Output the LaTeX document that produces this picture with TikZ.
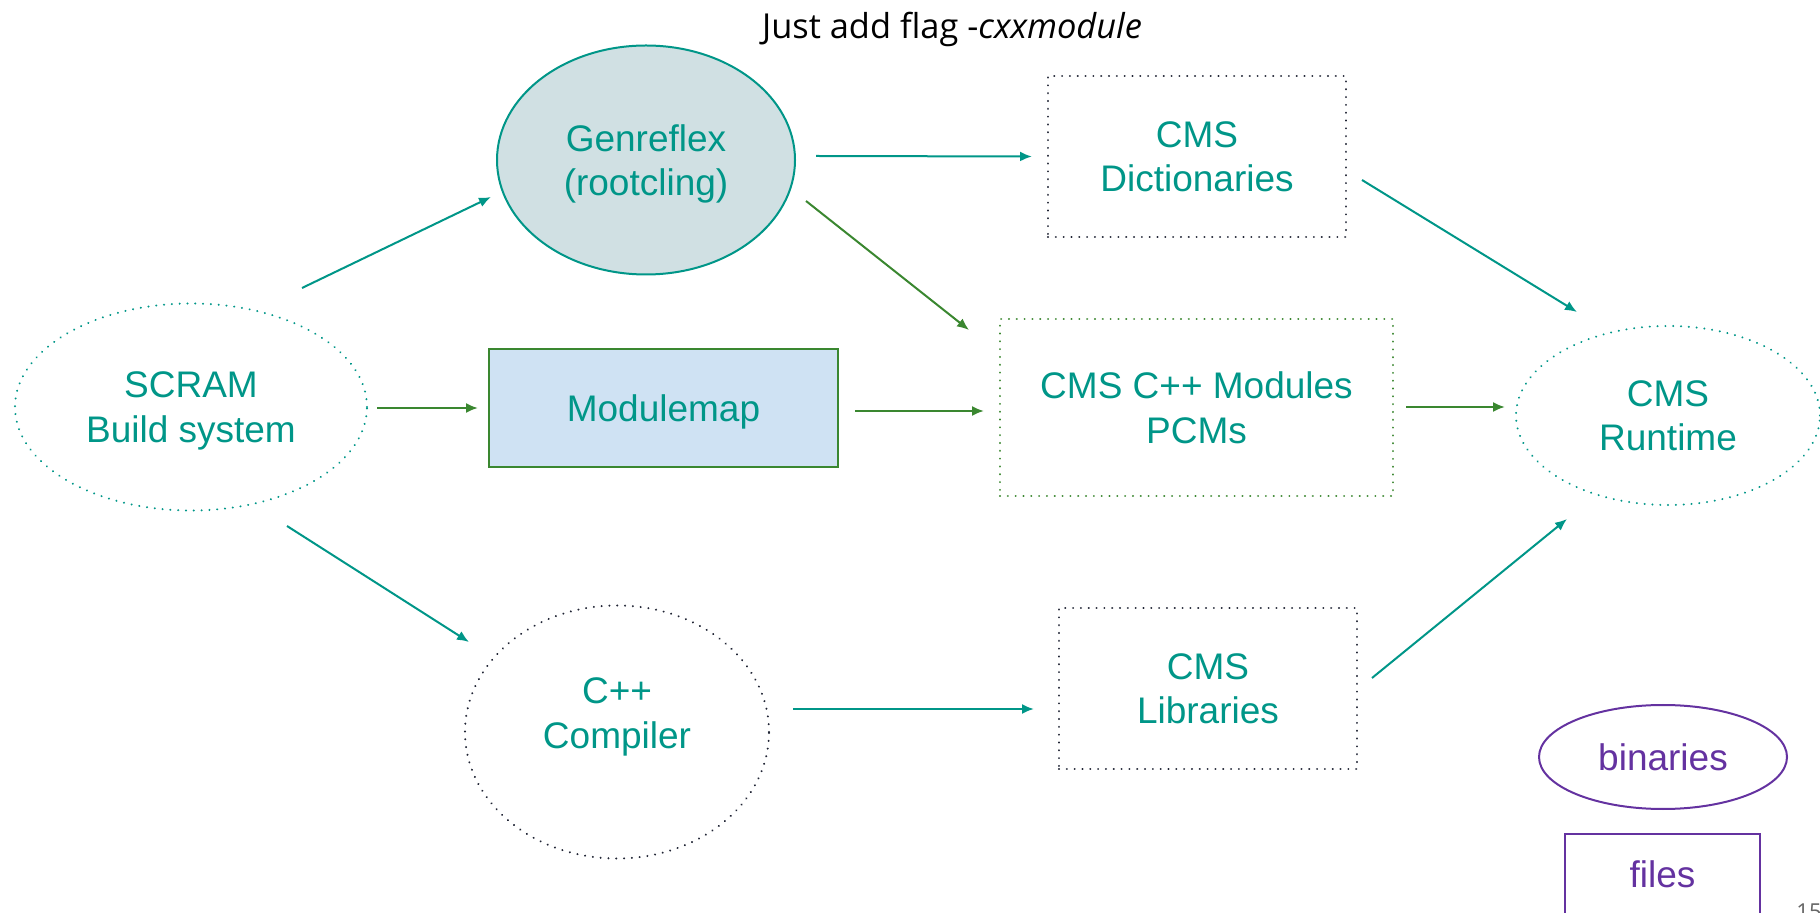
\documentclass[tikz,border=0pt]{standalone}
\usepackage{fontspec}
\setmainfont{Liberation Sans}
\newfontfamily\titlefont{Open Sans}
\usetikzlibrary{arrows.meta,calc,shapes.geometric}
\definecolor{teal1}{RGB}{0,150,136}
\definecolor{green1}{RGB}{58,135,48}
\definecolor{navy1}{RGB}{32,36,52}
\definecolor{purple1}{RGB}{100,50,160}
\definecolor{genfill}{RGB}{208,224,227}
\definecolor{mmfill}{RGB}{207,226,243}
\tikzset{
  lbl/.style={text=teal1, font=\fontsize{18.5}{22.3}\selectfont, align=center, inner sep=0pt, text depth=0pt},
  ell/.style={ellipse, lbl},
  box/.style={rectangle, lbl},
  dots/.style={line width=1.1pt, dash pattern=on 0.01pt off 3.9pt, line cap=round},
  tarr/.style={draw=teal1, line width=1pt, -{Latex[length=6pt,width=5pt]}},
  garr/.style={draw=green1, line width=1pt, -{Latex[length=6pt,width=5pt]}},
}
\begin{document}
\begin{tikzpicture}[x=0.5pt,y=-0.5pt]
\clip (0,0) rectangle (1820,913);
\useasboundingbox (0,0) rectangle (1820,913);

\node[inner sep=0pt, font=\titlefont\fontsize{17.2}{20}\selectfont] (title) at (952,29) {Just add flag -\textit{cxxmodule}};

\node[ell, draw=teal1, dots, minimum width=176pt, minimum height=103.5pt] (scram) at (191,407) {SCRAM\\Build system};
\node[ell, draw=teal1, fill=genfill, line width=1pt, minimum width=149pt, minimum height=114.5pt] (gen) at (646,160) {Genreflex\\(rootcling)};
\node[box, draw=green1, fill=mmfill, line width=1pt, minimum width=174.5pt, minimum height=59pt] (mm) at (663.5,408) {Modulemap};
\node[box, draw=navy1, dots, minimum width=149pt, minimum height=80.5pt] (dict) at (1197,156.5) {CMS\\Dictionaries};
\node[box, draw=green1, dots, minimum width=196.5pt, minimum height=88.5pt] (mods) at (1196.5,407.5) {CMS C++ Modules\\PCMs};
\node[ell, draw=teal1, dots, minimum width=152pt, minimum height=89.5pt] (run) at (1668,415.5) {CMS\\Runtime};
\node[ell, draw=navy1, dots, minimum width=152pt, minimum height=126.5pt, text depth=19pt] (comp) at (617,732) {C++\\Compiler};
\node[box, draw=navy1, dots, minimum width=149pt, minimum height=80.5pt] (lib) at (1208,688.5) {CMS\\Libraries};

\node[ell, draw=purple1, text=purple1, line width=1pt, minimum width=124pt, minimum height=52pt] (bin) at (1663,757) {binaries};
\node[box, draw=purple1, line width=1pt, minimum width=97.5pt, minimum height=53pt] (files) at (1662.5,887) {};
\node[lbl, text=purple1, anchor=base] (filestxt) at (1662.5,887) {files};
\node[inner sep=0pt, anchor=north west, text=black!60, font=\titlefont\fontsize{11}{13}\selectfont] (pg) at (1796,903) {15};

\draw[tarr] ($(scram)+(111,-119)$) -- ($(gen)+(-155,37)$);
\draw[garr] ($(scram)+(186,1)$) -- ($(mm)+(-185.5,0)$);
\draw[tarr] ($(scram)+(96,119)$) -- ($(comp)+(-148,-90)$);
\draw[tarr] ($(gen)+(170,-4)$) -- ($(dict)+(-165,0)$);
\draw[garr] ($(gen)+(160,41)$) -- ($(mods)+(-227.5,-77.5)$);
\draw[garr] ($(mm)+(191.5,3)$) -- ($(mods)+(-212.5,3.5)$);
\draw[tarr] ($(dict)+(165,23.5)$) -- ($(run)+(-91,-103.5)$);
\draw[garr] ($(mods)+(209.5,-0.5)$) -- ($(run)+(-163,-8.5)$);
\draw[tarr] ($(comp)+(176,-23)$) -- ($(lib)+(-174,20.5)$);
\draw[tarr] ($(lib)+(164,-10.5)$) -- ($(run)+(-101,103.5)$);
\end{tikzpicture}
\end{document}
